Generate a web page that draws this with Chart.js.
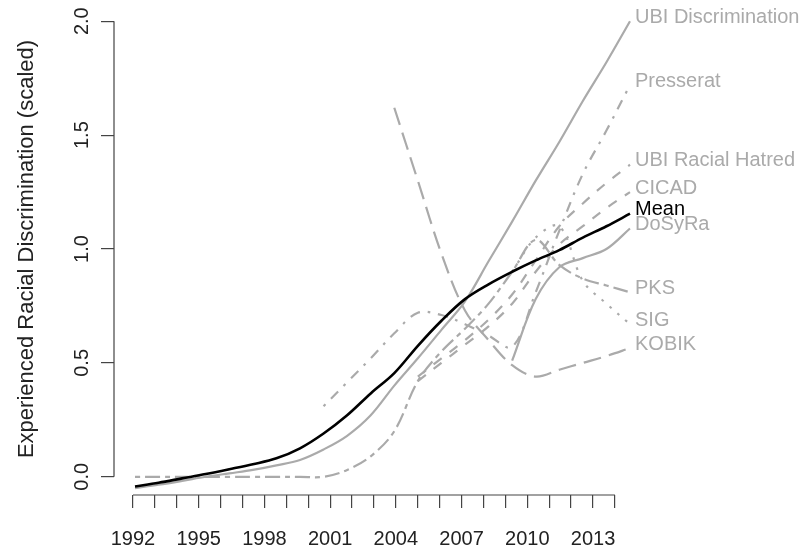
<!DOCTYPE html>
<html>
<head>
<meta charset="utf-8">
<script src="https://cdn.jsdelivr.net/npm/chart.js@4/dist/chart.umd.min.js"></script>
<style>
  html, body { margin: 0; padding: 0; background: #fff; }
  #wrap { width: 802px; height: 546px; }
</style>
</head>
<body>
<div id="wrap"><canvas id="chart"></canvas></div>
<script>
// yearly values, 1992 - 2013 (null = no data that year)
var years = [1992, 1993, 1994, 1995, 1996, 1997, 1998, 1999, 2000, 2001, 2002,
             2003, 2004, 2005, 2006, 2007, 2008, 2009, 2010, 2011, 2012, 2013];

var mean      = [-0.043, -0.026, -0.007, 0.012, 0.033, 0.055, 0.081, 0.125, 0.19, 0.27, 0.366,
                 0.455, 0.575, 0.685, 0.78, 0.845, 0.9, 0.95, 0.995, 1.05, 1.10, 1.155];
var ubiDisc   = [-0.05, -0.035, -0.018, 0.0, 0.015, 0.03, 0.05, 0.074, 0.12, 0.18, 0.27,
                 0.40, 0.52, 0.645, 0.77, 0.946, 1.12, 1.30, 1.47, 1.65, 1.82, 2.0];
var presserat = [null, null, null, null, null, null, null, null, 0.31, 0.415, 0.52,
                 0.63, 0.72, 0.71, 0.67, 0.62, 0.57, 0.81, 1.08, 1.33, 1.52, 1.72];
var ubiRacial = [null, null, null, null, null, null, null, null, null, null, null,
                 null, 0.44, 0.52, 0.60, 0.69, 0.80, 0.95, 1.10, 1.20, 1.29, 1.37];
var cicad     = [null, null, null, null, null, null, null, null, null, null, null,
                 null, 0.42, 0.50, 0.58, 0.66, 0.76, 0.90, 1.02, 1.10, 1.18, 1.25];
var dosyra    = [null, null, null, null, null, null, null, null, null, null, null,
                 null, null, null, null, null, 0.51, 0.78, 0.92, 0.96, 1.0, 1.09];
var pks       = [0, 0, 0, 0, 0, 0, 0, 0, 0, 0.03, 0.09,
                 0.20, 0.42, 0.55, 0.65, 0.76, 0.90, 1.04, 0.93, 0.87, 0.84, 0.81];
var sig       = [null, null, null, null, null, null, null, null, null, null, null,
                 null, null, null, null, null, 0.90, 1.05, 1.10, 0.86, 0.76, 0.67];
var kobik     = [null, null, null, null, null, null, null, null, null, null, null,
                 1.62, 1.30, 0.98, 0.73, 0.60, 0.49, 0.44, 0.47, 0.50, 0.53, 0.565];

var axisTicksX = [1992, 1993, 1994, 1995, 1996, 1997, 1998, 1999, 2000, 2001, 2002, 2003,
                  2004, 2005, 2006, 2007, 2008, 2009, 2010, 2011, 2012, 2013, 2014];
var axisTicksY = [0, 0.5, 1.0, 1.5, 2.0];

var GREY = '#aaaaaa';
var FONT = '"Liberation Sans", Arial, Helvetica, sans-serif';

function pts(arr) {
    var out = [];
    for (var i = 0; i < years.length; i++) {
        if (arr[i] !== null) out.push({x: years[i], y: arr[i]});
    }
    return out;
}

function series(label, arr, color, dash, width) {
    return {
        label: label,
        data: pts(arr),
        borderColor: color,
        borderWidth: width || 2.2,
        borderDash: dash,
        pointRadius: 0,
        tension: 0.35,
        fill: false,
        xAxisID: 'x',
        yAxisID: 'y'
    };
}

var datasets = [
    series('Mean', mean, '#000000', [], 2.6),
    series('UBI Discrimination', ubiDisc, GREY, []),
    series('Presserat', presserat, GREY, [2.6, 7.8, 10.4, 7.8]),
    series('UBI Racial Hatred', ubiRacial, GREY, [10, 10]),
    series('CICAD', cicad, GREY, [10, 10]),
    series('DoSyRa', dosyra, GREY, []),
    series('PKS', pks, GREY, [5, 5, 15, 5]),
    series('SIG', sig, GREY, [2.6, 7.8]),
    series('KOBIK', kobik, GREY, [18, 8])
];

// R-style axes: line only across the tick range, rotated y labels, end labels
var rAxes = {
    id: 'rAxes',
    afterDraw: function (chart) {
        var ctx = chart.ctx, xa = chart.scales.xa, y = chart.scales.y, area = chart.chartArea;
        ctx.save();
        ctx.strokeStyle = '#444';
        ctx.lineWidth = 1.2;
        ctx.beginPath();
        ctx.moveTo(xa.getPixelForValue(axisTicksX[0]), area.bottom);
        ctx.lineTo(xa.getPixelForValue(axisTicksX[axisTicksX.length - 1]), area.bottom);
        ctx.moveTo(area.left, y.getPixelForValue(axisTicksY[0]));
        ctx.lineTo(area.left, y.getPixelForValue(axisTicksY[axisTicksY.length - 1]));
        ctx.stroke();

        ctx.fillStyle = '#222';
        ctx.font = '20px ' + FONT;
        ctx.textAlign = 'center';
        ctx.textBaseline = 'middle';
        axisTicksY.forEach(function (v) {
            ctx.save();
            ctx.translate(82, y.getPixelForValue(v));
            ctx.rotate(-Math.PI / 2);
            ctx.fillText(v.toFixed(1), 0, 0);
            ctx.restore();
        });

        // series names at the right end of each line
        var x = chart.scales.x;
        ctx.textAlign = 'left';
        chart.data.datasets.forEach(function (ds) {
            var last = ds.data[ds.data.length - 1];
            ctx.fillStyle = ds.borderColor;
            ctx.fillText(ds.label, x.getPixelForValue(last.x) + 5, y.getPixelForValue(last.y) - 4);
        });
        ctx.restore();
    }
};

new Chart(document.getElementById('chart'), {
    type: 'line',
    data: { datasets: datasets },
    options: {
        responsive: true,
        maintainAspectRatio: false,
        animation: false,
        layout: { padding: { left: 0, right: 152, top: 3, bottom: 0 } },
        plugins: { legend: { display: false }, tooltip: { enabled: false } },
        scales: {
            x: { type: 'linear', min: 1991.109, max: 2013.849, display: false },
            xa: {
                type: 'linear',
                position: 'bottom',
                min: 1991.133,
                max: 2015.602,
                afterBuildTicks: function (s) {
                    s.ticks = axisTicksX.map(function (v) { return {value: v}; });
                },
                afterFit: function (s) { s.height = 51; },
                ticks: {
                    autoSkip: false,
                    maxRotation: 0,
                    padding: 19,
                    color: '#222',
                    font: { family: FONT, size: 20 },
                    callback: function (v) {
                        return (v <= 2013 && (v - 1992) % 3 === 0) ? String(v) : '';
                    }
                },
                grid: { drawOnChartArea: false, tickLength: 13, color: '#444', lineWidth: 1.2 },
                border: { display: false }
            },
            y: {
                type: 'linear',
                position: 'left',
                min: -0.08,
                max: 2.08,
                afterBuildTicks: function (s) {
                    s.ticks = axisTicksY.map(function (v) { return {value: v}; });
                },
                afterFit: function (s) { s.width = 114; },
                ticks: { display: false },
                grid: { drawOnChartArea: false, tickLength: 13, color: '#444', lineWidth: 1.2 },
                border: { display: false },
                title: {
                    display: true,
                    text: 'Experienced Racial Discrimination (scaled)',
                    color: '#222',
                    font: { family: FONT, size: 22 },
                    padding: { top: 14, bottom: 0 }
                }
            }
        }
    },
    plugins: [rAxes]
});
</script>
</body>
</html>
